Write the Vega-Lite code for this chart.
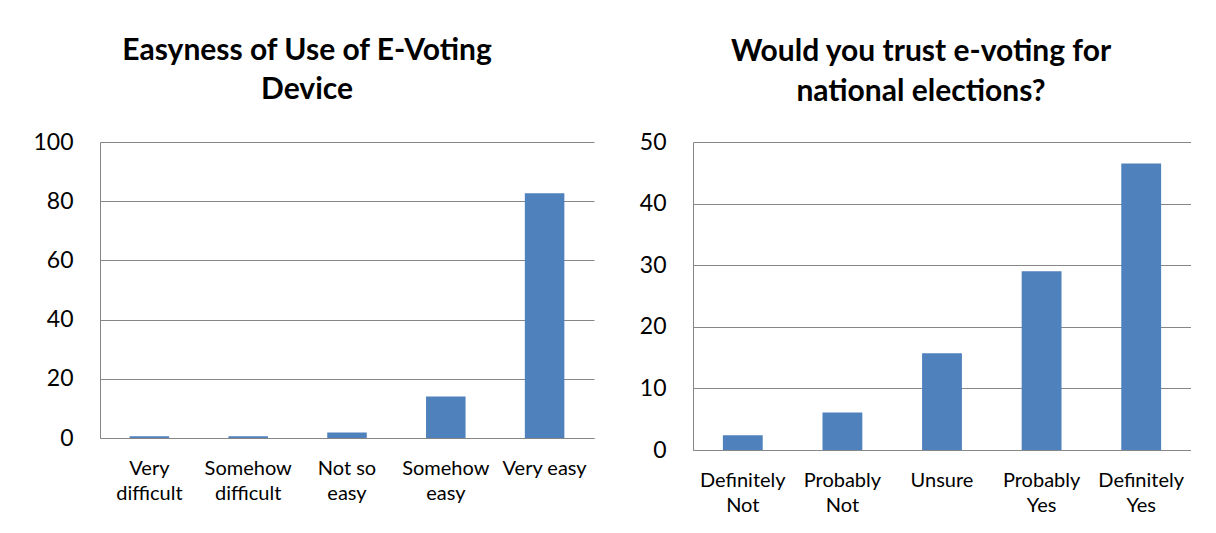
{
  "$schema": "https://vega.github.io/schema/vega-lite/v6.json",
  "background": "white",
  "padding": {"left": 32, "top": 36, "right": 0, "bottom": 0},
  "spacing": 45,
  "config": {
    "font": "Lato",
    "view": {"stroke": null},
    "axis": {
      "labelFont": "Lato",
      "labelColor": "#000000",
      "gridColor": "#868686",
      "gridOpacity": 1,
      "domainColor": "#868686",
      "ticks": false,
      "tickSize": 0,
      "title": null
    },
    "axisX": {
      "labelAngle": 0,
      "labelFontSize": 20,
      "labelPadding": 20,
      "labelBaseline": "top",
      "labelLineHeight": 25,
      "grid": false
    },
    "axisY": {
      "labelFontSize": 23,
      "labelPadding": 27,
      "grid": true
    },
    "title": {
      "font": "Lato",
      "fontSize": 30,
      "fontWeight": "bold",
      "color": "#000000",
      "lineHeight": 39,
      "anchor": "middle",
      "frame": "group"
    }
  },
  "hconcat": [
    {
      "title": {"text": ["Easyness of Use of E-Voting", "Device"], "dx": -40, "offset": 26},
      "width": 494,
      "height": 296,
      "data": {
        "values": [
          {"answer": "Very difficult", "percent": 0.6},
          {"answer": "Somehow difficult", "percent": 0.6},
          {"answer": "Not so easy", "percent": 1.9},
          {"answer": "Somehow easy", "percent": 14.0},
          {"answer": "Very easy", "percent": 82.7}
        ]
      },
      "mark": {"type": "bar", "color": "#4F81BD"},
      "encoding": {
        "x": {
          "field": "answer",
          "type": "nominal",
          "sort": null,
          "scale": {"paddingInner": 0.6, "paddingOuter": 0.3},
          "axis": {
            "labelExpr": "datum.label == 'Not so easy' ? ['Not so', 'easy'] : datum.label == 'Very easy' ? 'Very easy' : split(datum.label, ' ')"
          }
        },
        "y": {
          "field": "percent",
          "type": "quantitative",
          "scale": {"domain": [0, 100], "nice": false},
          "axis": {"values": [0, 20, 40, 60, 80, 100]}
        }
      }
    },
    {
      "title": {"text": ["Would you trust e-voting for", "national elections?"], "dx": -21, "offset": 24, "lineHeight": 40},
      "width": 498,
      "height": 308,
      "data": {
        "values": [
          {"answer": "Definitely Not", "percent": 2.4},
          {"answer": "Probably Not", "percent": 6.1},
          {"answer": "Unsure", "percent": 15.7},
          {"answer": "Probably Yes", "percent": 29.0},
          {"answer": "Definitely Yes", "percent": 46.5}
        ]
      },
      "mark": {"type": "bar", "color": "#4F81BD"},
      "encoding": {
        "x": {
          "field": "answer",
          "type": "nominal",
          "sort": null,
          "scale": {"paddingInner": 0.6, "paddingOuter": 0.3},
          "axis": {"labelExpr": "split(datum.label, ' ')"}
        },
        "y": {
          "field": "percent",
          "type": "quantitative",
          "scale": {"domain": [0, 50], "nice": false},
          "axis": {"values": [0, 10, 20, 30, 40, 50]}
        }
      }
    }
  ]
}
